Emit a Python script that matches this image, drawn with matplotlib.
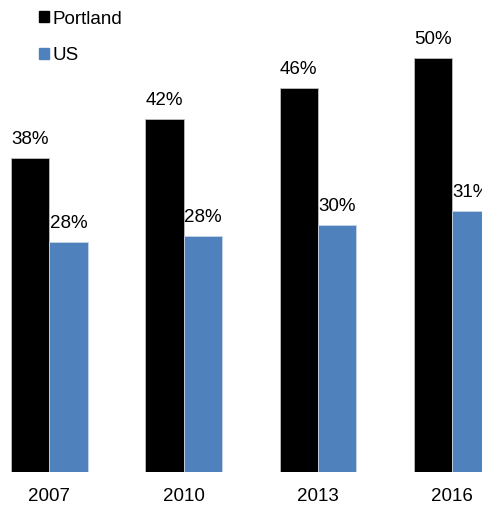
import matplotlib.pyplot as plt
import matplotlib.patches as mpatches
import numpy as np

plt.rcParams['font.family'] = ['Liberation Sans', 'DejaVu Sans']

years = ['2007', '2010', '2013', '2016']
portland = [37.6, 42.3, 46.0, 49.6]
us = [27.6, 28.3, 29.65, 31.3]

black = '#000000'
blue = '#4f81bd'
fs = 13.5

def main():
    fig = plt.figure(figsize=(4.82, 5.05), dpi=100)
    ax = fig.add_axes([0, 32.7 / 505, 1, 472.3 / 505])

    x = np.arange(len(years))
    w = 0.285
    b1 = ax.bar(x - w / 2, portland, w, color=black, edgecolor='#bfbfbf', linewidth=0.6)
    b2 = ax.bar(x + w / 2, us, w, color=blue, edgecolor='#c8d4e6', linewidth=0.6)

    for bars, vals in ((b1, portland), (b2, us)):
        for r, v in zip(bars, vals):
            ax.annotate('{:.0f}%'.format(v), (r.get_x() + r.get_width() / 2, v),
                        xytext=(0, 10.1), textcoords='offset points',
                        ha='center', va='baseline', fontsize=fs, annotation_clip=False)

    ax.set_xlim(-0.367, 3.222)
    ax.set_ylim(0, 472.3 / 8.35)
    ax.set_xticks(x)
    ax.set_xticklabels(years, fontsize=fs)
    ax.tick_params(axis='x', length=0, pad=11.5)
    ax.set_yticks([])
    for s in ax.spines.values():
        s.set_visible(False)

    handles = [mpatches.Patch(color=black, label='Portland'),
               mpatches.Patch(color=blue, label='US')]
    fig.legend(handles=handles, loc='upper left', bbox_to_anchor=(39 / 482, 1 - 10.5 / 505),
               frameon=False, fontsize=fs, handlelength=0.53, handleheight=0.53,
               handletextpad=0.21, labelspacing=1.04, borderpad=0, borderaxespad=0)

    fig.savefig('out.png', dpi=100)

if __name__ == '__main__':
    main()
